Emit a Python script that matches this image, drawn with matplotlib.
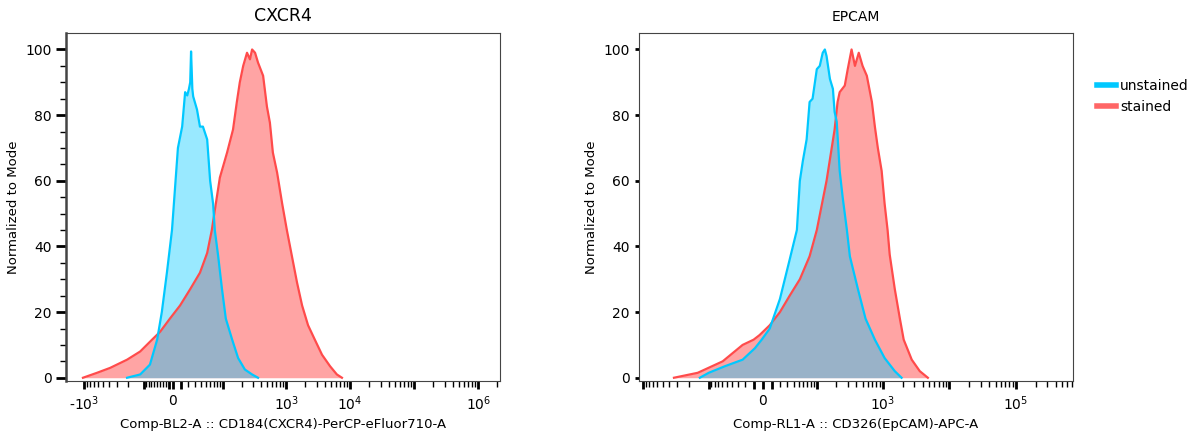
import numpy as np
import matplotlib
matplotlib.use("Agg")
from matplotlib import pyplot as plt
from matplotlib.lines import Line2D

# histogram samples, x in display channels (0..1024), y normalized to mode
cxcr4_unstained_ch = [144, 175, 198, 215, 226, 238, 250, 264, 274, 281, 286, 290, 293, 295, 298, 300,
                      309, 316, 323, 333, 340, 347, 351, 359, 368, 377, 392, 406, 422, 439, 453]
cxcr4_unstained = [0, 1, 4, 11.6, 20, 32, 45, 70, 76.5, 87, 86, 88, 90, 99.4, 88, 85.7,
                   81.7, 76.5, 76.5, 72.6, 60, 53, 45, 37, 27, 18, 11.6, 6, 2.5, 1, 0]
cxcr4_stained_ch = [40, 73, 104, 144, 175, 203, 222, 245, 269, 293, 316, 333, 344, 351, 363, 380,
                    394, 403, 410, 418, 427, 434, 439, 446, 453, 465, 474, 481, 488, 498, 510,
                    521, 533, 545, 557, 571, 587, 604, 623, 639, 651]
cxcr4_stained = [0, 1.5, 3, 5.5, 8, 11.6, 14, 18, 22, 27, 32, 38, 45, 51, 61, 68.6,
                 75.6, 84, 90, 95, 99, 97, 100, 99, 96, 92, 82.6, 77.7, 68.6, 62.5, 53,
                 45, 37, 29, 22, 16, 11.6, 7, 3.5, 1, 0]

epcam_unstained_ch = [144, 165, 203, 245, 274, 290, 309, 333, 356, 373, 380, 387, 396, 403, 410,
                      420, 427, 434, 439, 443, 451, 458, 462, 467, 474, 481, 491, 498, 517, 535,
                      557, 580, 604, 620]
epcam_unstained = [0, 1.5, 3.5, 5.5, 9, 11.6, 15, 24, 36, 45, 60, 66, 72.6, 84, 85,
                   94, 95, 99, 100, 98, 91, 88, 81, 78, 63, 55, 45, 37, 27, 18,
                   11.6, 6, 2, 0]
epcam_stained_ch = [83, 139, 198, 245, 271, 285, 309, 333, 356, 380, 403, 420, 443, 462, 469, 474,
                    486, 493, 502, 510, 519, 528, 538, 550, 557, 564, 573, 580, 587, 592, 604,
                    616, 625, 644, 663, 682]
epcam_stained = [0, 1.5, 5, 10, 11.6, 13, 16, 20, 25, 30, 37, 45, 60, 75.6, 84, 87,
                 89, 94, 100, 95, 99, 95, 92, 84, 76.5, 70, 63, 53, 45, 37.5, 27,
                 18, 11.6, 5.5, 2, 0]

# biexponential-ish display: channel = ch0 + a * asinh(v / c)
cxcr4_scale = dict(ch0=252, a=65.6, c_pos=34, c_neg=82)
epcam_scale = dict(ch0=292.5, a=68.1, c_pos=31.3, c_neg=31.3)
cxcr4_labels = {-1e3: "-$10^3$", 0: "0", 1e3: "$10^3$", 1e4: "$10^4$", 1e6: "$10^6$"}
epcam_labels = {0: "0", 1e3: "$10^3$", 1e5: "$10^5$"}

blue = "#00C8FF"
red = "#FF4B4B"


def to_channel(v, ch0, a, c_pos, c_neg):
    v = np.asarray(v, dtype=float)
    return ch0 + a * np.where(v >= 0, np.arcsinh(v / c_pos), np.arcsinh(v / c_neg))


def set_xaxis(ax, sc, labels):
    major, minor = [0.0], []
    for k in range(1, 7):
        for sign in (1, -1):
            major.append(sign * 10.0 ** k)
            minor += [sign * m * 10.0 ** k for m in range(2, 10)]
    major_ch = to_channel(major, **sc)
    minor_ch = to_channel(minor, **sc)
    keep = (major_ch >= 0) & (major_ch <= 1024)
    ax.set_xticks(major_ch[keep], [labels.get(v, "") for v, k in zip(major, keep) if k])
    ax.set_xticks(minor_ch[(minor_ch >= 0) & (minor_ch <= 1024)], minor=True)
    ax.tick_params(axis="x", which="major", length=6, width=2, labelsize=10)
    ax.tick_params(axis="x", which="minor", length=4, width=1)


def draw(ax, ch_u, y_u, ch_s, y_s):
    ax.fill_between(ch_s, y_s, color=red, alpha=0.5, lw=0)
    ax.plot(ch_s, y_s, color=red, lw=1.6)
    ax.fill_between(ch_u, y_u, color=blue, alpha=0.4, lw=0)
    ax.plot(ch_u, y_u, color=blue, lw=1.6)
    ax.set_xlim(0, 1024)
    ax.set_ylim(-1, 105)
    ax.set_yticks([0, 20, 40, 60, 80, 100])
    ax.set_ylabel("Normalized to Mode", fontsize=9.5)
    ax.tick_params(axis="y", labelsize=10)
    for s in ax.spines.values():
        s.set_color("#444444")


fig = plt.figure(figsize=(11.94, 4.41), dpi=100)
ax1 = fig.add_axes([0.0553, 0.136, 0.3635, 0.789])
ax2 = fig.add_axes([0.535, 0.136, 0.3635, 0.789])

draw(ax1, cxcr4_unstained_ch, cxcr4_unstained, cxcr4_stained_ch, cxcr4_stained)
set_xaxis(ax1, cxcr4_scale, cxcr4_labels)
ax1.set_yticks(np.arange(0, 105, 5), minor=True)
ax1.tick_params(axis="y", which="major", length=7, width=2)
ax1.tick_params(axis="y", which="minor", length=4, width=1)
ax1.spines["left"].set_linewidth(1.8)
ax1.set_title("CXCR4", fontsize=12.5, pad=9)
ax1.set_xlabel("Comp-BL2-A :: CD184(CXCR4)-PerCP-eFluor710-A", fontsize=9.5)

draw(ax2, epcam_unstained_ch, epcam_unstained, epcam_stained_ch, epcam_stained)
set_xaxis(ax2, epcam_scale, epcam_labels)
ax2.tick_params(axis="y", which="major", length=3, width=2)
ax2.set_title("EPCAM", fontsize=10, pad=9)
ax2.set_xlabel("Comp-RL1-A :: CD326(EpCAM)-APC-A", fontsize=9.5)

handles = [Line2D([], [], color=blue, lw=4), Line2D([], [], color=red, lw=4, alpha=0.85)]
fig.legend(handles, ["unstained", "stained"], loc="upper left", bbox_to_anchor=(0.908, 0.85),
           frameon=False, fontsize=10, handlelength=1.4, handletextpad=0.3, labelspacing=0.5)

fig.savefig("out.png", dpi=100)
